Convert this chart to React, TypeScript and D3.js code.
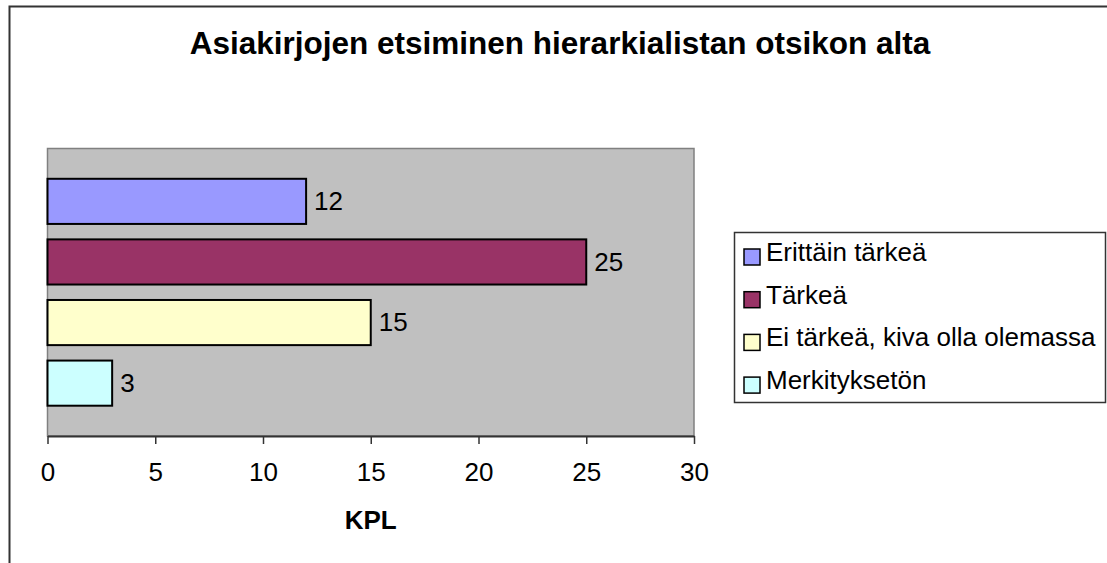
import * as React from 'react'
import * as d3 from 'd3'

const chartTitle = 'Asiakirjojen etsiminen hierarkialistan otsikon alta'
const axisTitle = 'KPL'
const seriesNames = ['Erittäin tärkeä', 'Tärkeä', 'Ei tärkeä, kiva olla olemassa', 'Merkityksetön']
const seriesValues = [12, 25, 15, 3]
const seriesColors = ['#9999FF', '#993366', '#FFFFCC', '#CCFFFF']
const xTicks = [0, 5, 10, 15, 20, 25, 30]

const W = 1107
const H = 563
const plot = { left: 47.5, top: 148.5, right: 694, bottom: 436 }
const FONT = 'Liberation Sans, Arial, sans-serif'

export default function App() {
    const ref = React.useRef<SVGSVGElement | null>(null)

    React.useEffect(() => {
        if (!ref.current)
            return
        const svg = d3.select(ref.current)
        svg.selectAll('*').remove()

        // outer chart frame
        svg.append('rect')
            .attr('x', 9.5).attr('y', 6.5)
            .attr('width', W + 20).attr('height', H + 20)
            .attr('fill', '#fff')
            .attr('stroke', '#333').attr('stroke-width', 2)

        svg.append('text')
            .attr('x', 560).attr('y', 54)
            .attr('text-anchor', 'middle')
            .attr('font-family', FONT).attr('font-size', 31.5).attr('font-weight', 'bold')
            .text(chartTitle)

        const x = d3.scaleLinear().domain([0, 30]).range([plot.left, plot.right])
        const y = d3.scaleBand<string>()
            .domain(seriesNames)
            .range([plot.top, plot.bottom])
            .paddingInner(0.255)
            .paddingOuter(0.5)

        // plot area
        svg.append('rect')
            .attr('x', plot.left).attr('y', plot.top)
            .attr('width', plot.right - plot.left).attr('height', plot.bottom - plot.top)
            .attr('fill', '#C0C0C0')
            .attr('stroke', '#808080').attr('stroke-width', 1.5)

        // bars
        svg.selectAll('rect.bar')
            .data(seriesNames)
            .enter().append('rect')
            .attr('class', 'bar')
            .attr('x', x(0))
            .attr('y', d => y(d) as number)
            .attr('width', (d, i) => x(seriesValues[i]) - x(0))
            .attr('height', y.bandwidth())
            .attr('fill', (d, i) => seriesColors[i])
            .attr('stroke', '#000').attr('stroke-width', 2)

        // value labels
        svg.selectAll('text.val')
            .data(seriesNames)
            .enter().append('text')
            .attr('class', 'val')
            .attr('x', (d, i) => x(seriesValues[i]) + 8)
            .attr('y', d => (y(d) as number) + y.bandwidth() / 2)
            .attr('dy', '0.34em')
            .attr('font-family', FONT).attr('font-size', 26)
            .text((d, i) => String(seriesValues[i]))

        // x axis
        const axis = svg.append('g')
            .attr('transform', 'translate(0,' + plot.bottom + ')')
            .call(d3.axisBottom(x).tickValues(xTicks).tickSize(8).tickPadding(19).tickSizeOuter(0))
        axis.select('.domain').attr('stroke', '#333').attr('stroke-width', 2)
        axis.selectAll('.tick line').attr('stroke', '#333').attr('stroke-width', 1.5)
        axis.selectAll('.tick text')
            .attr('font-family', FONT).attr('font-size', 26).attr('fill', '#000')

        svg.append('text')
            .attr('x', (plot.left + plot.right) / 2).attr('y', 529)
            .attr('text-anchor', 'middle')
            .attr('font-family', FONT).attr('font-size', 26).attr('font-weight', 'bold')
            .text(axisTitle)

        // legend
        const lg = svg.append('g')
        lg.append('rect')
            .attr('x', 734.5).attr('y', 232.5)
            .attr('width', 371).attr('height', 170)
            .attr('fill', '#fff')
            .attr('stroke', '#333').attr('stroke-width', 1.5)

        const rows = lg.selectAll('g.item')
            .data(seriesNames)
            .enter().append('g')
            .attr('class', 'item')
            .attr('transform', (d, i) => 'translate(744,' + (261 + i * 42.7) + ')')
        rows.append('rect')
            .attr('x', 0).attr('y', -12)
            .attr('width', 16).attr('height', 16)
            .attr('fill', (d, i) => seriesColors[i])
            .attr('stroke', '#000').attr('stroke-width', 1.5)
        rows.append('text')
            .attr('x', 22).attr('y', 0)
            .attr('font-family', FONT).attr('font-size', 26)
            .text(d => d)
    }, [])

    return (
        <svg
            ref={ref}
            width={W}
            height={H}
            style={{ position: 'absolute', left: 0, top: 0 }} />
    )
}
